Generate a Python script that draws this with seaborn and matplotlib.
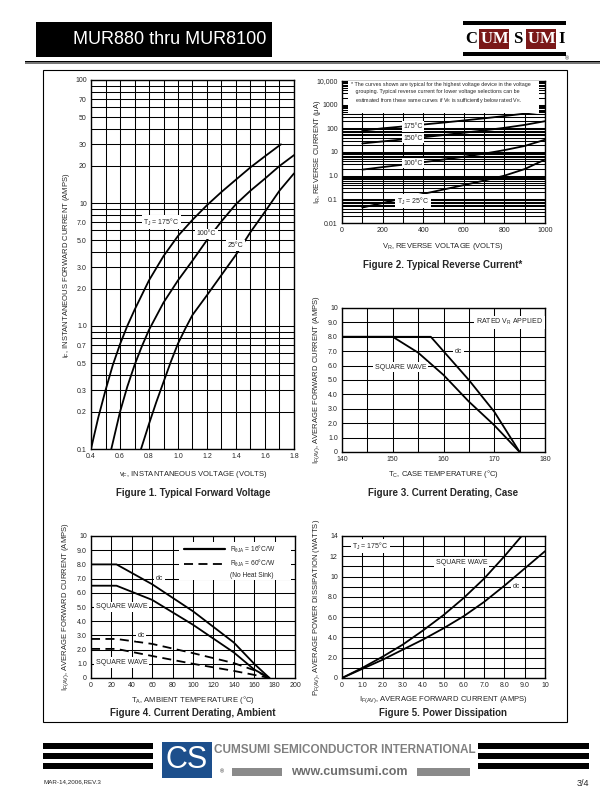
import numpy as np
import pandas as pd
import seaborn as sns
import matplotlib.pyplot as plt
from matplotlib.patches import Rectangle
from matplotlib.lines import Line2D

# ---- Figure 1: forward voltage (log current)
f1_v175 = [0.40, 0.45, 0.50, 0.55, 0.60, 0.65, 0.70, 0.80, 0.90, 1.00, 1.10, 1.20, 1.30, 1.40, 1.50, 1.60, 1.71]
f1_i175 = [0.1, 0.18, 0.3, 0.48, 0.71, 1.0, 1.35, 2.35, 3.7, 5.4, 7.3, 9.6, 12.3, 15.5, 19.5, 24, 30]
f1_v100 = [0.54, 0.60, 0.65, 0.70, 0.75, 0.80, 0.90, 1.00, 1.10, 1.20, 1.30, 1.40, 1.50, 1.60, 1.70, 1.80]
f1_i100 = [0.1, 0.2, 0.32, 0.48, 0.68, 0.93, 1.55, 2.35, 3.4, 5.0, 7.1, 9.8, 12.6, 15.8, 20, 24.5]
f1_v25 = [0.745, 0.80, 0.85, 0.90, 0.95, 1.00, 1.05, 1.10, 1.20, 1.30, 1.40, 1.50, 1.60, 1.70, 1.80]
f1_i25 = [0.1, 0.16, 0.24, 0.35, 0.51, 0.72, 0.95, 1.23, 1.78, 2.6, 3.8, 5.8, 8.5, 12.6, 17.4]
f1_yticks = [0.1, 0.2, 0.3, 0.5, 0.7, 1.0, 2.0, 3.0, 5.0, 7.0, 10, 20, 30, 50, 70, 100]
f1_ylabels = ['0.1', '0.2', '0.3', '0.5', '0.7', '1.0', '2.0', '3.0', '5.0', '7.0', '10', '20', '30', '50', '70', '100']

# ---- Figure 2: reverse current
f2_vr = [100, 200, 300, 400, 500, 600, 700, 800, 900, 1000]
f2_i175 = [80, 100, 120, 145, 175, 215, 265, 330, 420, 530]
f2_i150 = [23, 28, 34, 42, 52, 65, 82, 105, 140, 200]
f2_i100 = [1.8, 2.3, 2.9, 3.7, 4.8, 6.3, 8.5, 12, 18, 33]
f2_i25 = [0.045, 0.07, 0.11, 0.17, 0.26, 0.4, 0.62, 1.0, 1.9, 4.8]
f2_yticks = [0.01, 0.1, 1.0, 10, 100, 1000, 10000]
f2_ylabels = ['0.01', '0.1', '1.0', '10', '100', '1000', '10,000']

# ---- Figure 3: derating, case
f3_tc_dc = [140, 157.5, 160, 165, 170, 175]
f3_i_dc = [8, 8, 7.0, 5.0, 2.8, 0]
f3_tc_sq = [140, 150, 155, 160, 165, 170, 175]
f3_i_sq = [8, 8, 6.9, 5.35, 3.5, 1.86, 0]

# ---- Figure 4: derating, ambient
f4_ta = [0, 25, 60, 100, 140, 160, 175]
f4_dc16 = [8, 8, 6.6, 4.7, 2.5, 1.0, 0]
f4_sq16 = [6.5, 6.5, 5.5, 3.75, 1.8, 0.6, 0]
f4_dc60 = [2.75, 2.75, 2.4, 1.75, 1.05, 0.55, 0]
f4_sq60 = [2.05, 2.05, 1.55, 1.0, 0.5, 0.22, 0]

# ---- Figure 5: power dissipation
f5_if_sq = [0, 1, 2, 3, 4, 5, 6, 7, 8, 8.85]
f5_p_sq = [0, 1.0, 2.1, 3.3, 4.7, 6.2, 7.9, 9.8, 12, 14]
f5_if_dc = [0, 1, 2, 3, 4, 5, 6, 7, 8, 9, 10]
f5_p_dc = [0, 0.9, 1.8, 2.8, 3.8, 4.9, 6.1, 7.5, 9.1, 10.8, 12.5]

sns.set_style('white')
FONTS = ['Liberation Sans Narrow', 'Liberation Sans', 'DejaVu Sans']
plt.rcParams['font.family'] = FONTS
plt.rcParams['mathtext.fontset'] = 'custom'
plt.rcParams['mathtext.rm'] = 'Liberation Sans'
plt.rcParams['mathtext.it'] = 'Liberation Sans'

W, H = 612, 792
fig = plt.figure(figsize=(6.12, 7.92), dpi=100)


def fx(x):
    return x / W


def fy(y):
    return 1 - y / H


def make_ax(x0, y0, x1, y1):
    ax = fig.add_axes([fx(x0), fy(y1), (x1 - x0) / W, (y1 - y0) / H])
    ax.set_facecolor('white')
    for s in ax.spines.values():
        s.set_linewidth(1.0)
        s.set_color('k')
    ax.tick_params(which='both', length=0, labelsize=5, pad=3)
    ax.grid(True, which='both', color='k', lw=0.75)
    ax.set_axisbelow(True)
    return ax


def ftext(x, y, s, size=5.5, **kw):
    fig.text(fx(x), fy(y), s, fontsize=size, ha='center', va='center', **kw)


def lab(ax, x, y, s, size=5):
    ax.text(x, y, s, fontsize=size, ha='center', va='center',
            bbox=dict(fc='white', ec='none', pad=1.2), zorder=5)


def curve(ax, x, y, **kw):
    sns.lineplot(x=x, y=y, ax=ax, color='k', lw=1.3, sort=False,
                 estimator=None, legend=False, **kw)


# ---------------- Figure 1
ax1 = make_ax(91, 80, 294, 449)
curve(ax1, f1_v175, f1_i175)
curve(ax1, f1_v100, f1_i100)
curve(ax1, f1_v25, f1_i25)
ax1.set_yscale('log')
ax1.set_xlim(0.4, 1.8)
ax1.set_ylim(0.1, 100)
ax1.set_xticks(np.arange(0.4, 1.81, 0.2))
ax1.set_xticklabels(['0.4', '0.6', '0.8', '1.0', '1.2', '1.4', '1.6', '1.8'])
ax1.set_xticks(np.arange(0.5, 1.8, 0.2), minor=True)
ax1.set_yticks(f1_yticks)
ax1.set_yticklabels(f1_ylabels)
ax1.set_yticks([m * d for d in [0.1, 1, 10] for m in range(2, 10)], minor=True)
ax1.set_yticklabels([], minor=True)
ax1.set_xlabel('')
ax1.set_ylabel('')
lab(ax1, 0.885, 7.0, 'T$_J$ = 175°C')
lab(ax1, 1.195, 5.6, '100°C')
lab(ax1, 1.395, 4.5, '25°C')
ftext(67, 265, 'i$_F$, INSTANTANEOUS FORWARD CURRENT (AMPS)', rotation=90)
ftext(193, 474, 'v$_F$, INSTANTANEOUS VOLTAGE (VOLTS)')
ftext(193, 493, 'Figure 1. Typical Forward Voltage', size=7, fontweight='bold')

# ---------------- Figure 2
ax2 = make_ax(342, 81, 545, 223)
ax2.set_yscale('log')
curve(ax2, f2_vr, f2_i175)
curve(ax2, f2_vr, f2_i150)
curve(ax2, f2_vr, f2_i100)
curve(ax2, f2_vr, f2_i25)
ax2.set_xlim(0, 1000)
ax2.set_ylim(0.01, 10000)
ax2.set_xticks(range(0, 1001, 200))
ax2.set_xticks(range(100, 1000, 200), minor=True)
ax2.set_yticks(f2_yticks)
ax2.set_yticklabels(f2_ylabels)
ax2.set_yticks([m * d for d in [0.01, 0.1, 1, 10, 100, 1000] for m in range(2, 10)], minor=True)
ax2.set_yticklabels([], minor=True)
ax2.set_xlabel('')
ax2.set_ylabel('')
ax2.add_patch(Rectangle((0.03, 0.775), 0.94, 0.225, transform=ax2.transAxes,
                        fc='white', ec='none', zorder=4))
ax2.text(0.045, 0.99, '* The curves shown are typical for the highest voltage device in the voltage\n'
         '   grouping. Typical reverse current for lower voltage selections can be\n'
         '   estimated from these same curves if V$_R$ is sufficiently below rated V$_R$.',
         transform=ax2.transAxes, fontsize=3.9, ha='left', va='top', linespacing=1.35, zorder=6)
lab(ax2, 350, 120, '175°C')
lab(ax2, 350, 38, '150°C')
lab(ax2, 350, 3.4, '100°C')
lab(ax2, 350, 0.085, 'T$_J$ = 25°C')
ftext(317, 152, 'I$_R$, REVERSE CURRENT (μA)', rotation=90)
ftext(443, 247, 'V$_R$, REVERSE VOLTAGE (VOLTS)')
ftext(443, 265, 'Figure 2. Typical Reverse Current*', size=7, fontweight='bold')

# ---------------- Figure 3
ax3 = make_ax(342, 308, 545, 452)
curve(ax3, f3_tc_dc, f3_i_dc)
curve(ax3, f3_tc_sq, f3_i_sq)
ax3.set_xlim(140, 180)
ax3.set_ylim(0, 10)
ax3.set_xticks(range(140, 181, 10))
ax3.set_xticks(range(145, 180, 10), minor=True)
ax3.set_yticks(range(0, 11))
ax3.set_yticklabels(['0', '1.0', '2.0', '3.0', '4.0', '5.0', '6.0', '7.0', '8.0', '9.0', '10'])
ax3.set_xlabel('')
ax3.set_ylabel('')
lab(ax3, 173, 9.0, 'RATED V$_R$ APPLIED')
lab(ax3, 163, 7.0, 'dc')
lab(ax3, 151.5, 5.9, 'SQUARE WAVE')
ftext(317, 380, 'I$_{F(AV)}$, AVERAGE FORWARD CURRENT (AMPS)', rotation=90)
ftext(443, 474, 'T$_C$, CASE TEMPERATURE (°C)')
ftext(443, 493, 'Figure 3. Current Derating, Case', size=7, fontweight='bold')

# ---------------- Figure 4
ax4 = make_ax(91, 536, 295, 678)
curve(ax4, f4_ta, f4_dc16)
curve(ax4, f4_ta, f4_sq16)
curve(ax4, f4_ta, f4_dc60)
curve(ax4, f4_ta, f4_sq60)
for ln in ax4.lines[2:]:
    ln.set_dashes((5, 3))
ax4.set_xlim(0, 200)
ax4.set_ylim(0, 10)
ax4.set_xticks(range(0, 201, 20))
ax4.set_yticks(range(0, 11))
ax4.set_yticklabels(['0', '1.0', '2.0', '3.0', '4.0', '5.0', '6.0', '7.0', '8.0', '9.0', '10'])
ax4.set_xlabel('')
ax4.set_ylabel('')
ax4.add_patch(Rectangle((0.43, 0.69), 0.55, 0.27, transform=ax4.transAxes,
                        fc='white', ec='none', zorder=4))
ax4.add_line(Line2D([0.455, 0.655], [0.905, 0.905], transform=ax4.transAxes,
                    color='k', lw=1.6, zorder=6))
ax4.add_line(Line2D([0.455, 0.655], [0.805, 0.805], transform=ax4.transAxes,
                    color='k', lw=1.3, dashes=(5, 3), zorder=6))
ax4.text(0.68, 0.905, 'R$_{θJA}$ = 16°C/W', transform=ax4.transAxes, fontsize=4.8,
         ha='left', va='center', zorder=6)
ax4.text(0.68, 0.805, 'R$_{θJA}$ = 60°C/W', transform=ax4.transAxes, fontsize=4.8,
         ha='left', va='center', zorder=6)
ax4.text(0.68, 0.72, '(No Heat Sink)', transform=ax4.transAxes, fontsize=4.8,
         ha='left', va='center', zorder=6)
lab(ax4, 67, 7.0, 'dc')
lab(ax4, 30, 5.0, 'SQUARE WAVE')
lab(ax4, 49, 3.0, 'dc')
lab(ax4, 30, 1.1, 'SQUARE WAVE')
ftext(66, 607, 'I$_{F(AV)}$, AVERAGE FORWARD CURRENT (AMPS)', rotation=90)
ftext(193, 700, 'T$_A$, AMBIENT TEMPERATURE (°C)')
ftext(193, 713, 'Figure 4. Current Derating, Ambient', size=7, fontweight='bold')

# ---------------- Figure 5
ax5 = make_ax(342, 536, 545, 678)
curve(ax5, f5_if_sq, f5_p_sq)
curve(ax5, f5_if_dc, f5_p_dc)
ax5.set_xlim(0, 10)
ax5.set_ylim(0, 14)
ax5.set_xticks(range(0, 11))
ax5.set_xticklabels(['0', '1.0', '2.0', '3.0', '4.0', '5.0', '6.0', '7.0', '8.0', '9.0', '10'])
ax5.set_yticks(range(0, 15, 2))
ax5.set_yticklabels(['0', '2.0', '4.0', '6.0', '8.0', '10', '12', '14'])
ax5.set_yticks(range(1, 14, 2), minor=True)
ax5.set_xlabel('')
ax5.set_ylabel('')
lab(ax5, 1.4, 13.0, 'T$_J$ = 175°C')
lab(ax5, 5.9, 11.4, 'SQUARE WAVE')
lab(ax5, 8.6, 9.0, 'dc')
ftext(317, 607, 'P$_{F(AV)}$, AVERAGE POWER DISSIPATION (WATTS)', rotation=90)
ftext(443, 700, 'I$_{F(AV)}$, AVERAGE FORWARD CURRENT (AMPS)')
ftext(443, 713, 'Figure 5. Power Dissipation', size=7, fontweight='bold')


# ---------------- page decoration
def frect(x0, y0, x1, y1, **kw):
    fig.patches.append(Rectangle((fx(x0), fy(y1)), (x1 - x0) / W, (y1 - y0) / H,
                                 transform=fig.transFigure, **kw))


frect(36, 22, 272, 57, fc='k', ec='none')
ftext(170, 40, 'MUR880 thru MUR8100', size=13, color='white', family=FONTS)
frect(25, 61, 600, 64, fc='#777777', ec='none')
frect(25, 61, 600, 62, fc='k', ec='none')

# logo
frect(463, 21, 566, 25, fc='k', ec='none')
frect(463, 52, 566, 56, fc='k', ec='none')
frect(479, 29, 509, 49, fc='#7a1818', ec='none')
frect(526, 29, 556, 49, fc='#7a1818', ec='none')
for ch, xx, col in [('C', 471, 'k'), ('U', 487, 'white'), ('M', 501, 'white'), ('S', 518, 'k'),
                    ('U', 534, 'white'), ('M', 548, 'white'), ('I', 562, 'k')]:
    fig.text(fx(xx), fy(39), ch, fontsize=12, fontweight='bold', family='Liberation Serif',
             color=col, ha='center', va='center')
ftext(567, 59, '®', size=4)

# frame
frect(43, 70, 567, 722, fc='none', ec='k', lw=0.8)

# footer
for yy in [743, 753, 763]:
    frect(43, yy, 153, yy + 6, fc='k', ec='none')
    frect(478, yy, 589, yy + 6, fc='k', ec='none')
frect(162, 742, 212, 778, fc='#1d4f8c', ec='none')
ftext(187, 760, 'CS', size=22, color='white', family=FONTS)
ftext(345, 750, 'CUMSUMI SEMICONDUCTOR INTERNATIONAL', size=8.5, color='#808080', fontweight='bold')
ftext(222, 772, '®', size=4)
frect(232, 768, 282, 776, fc='#8a8a8a', ec='none')
frect(417, 768, 470, 776, fc='#8a8a8a', ec='none')
ftext(349, 772, 'www.cumsumi.com', size=9, color='#6e6e6e', fontweight='bold')
fig.text(fx(43), fy(782), 'MAR-14,2006,REV.3', fontsize=4.5, ha='left', va='center')
fig.text(fx(589), fy(783), '3/4', fontsize=6.5, ha='right', va='center')

fig.savefig('out.png', dpi=100)
